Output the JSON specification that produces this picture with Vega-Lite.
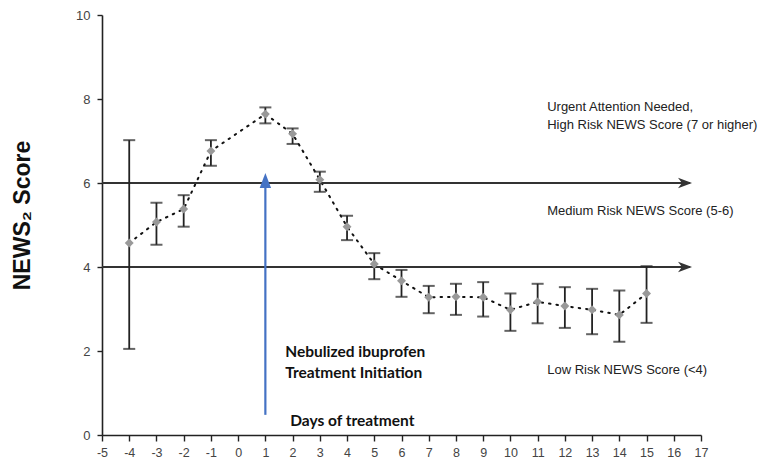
{
  "$schema": "https://vega.github.io/schema/vega-lite/v6.json",
  "width": 599,
  "height": 420,
  "autosize": "none",
  "padding": {"left": 102, "top": 15, "right": 79, "bottom": 34},
  "background": "white",
  "config": {
    "view": {"stroke": null},
    "axis": {"grid": false, "domainColor": "#222", "domainWidth": 1.6, "tickColor": "#222", "tickWidth": 1.4, "labelFont": "Liberation Sans", "labelFontSize": 13, "labelColor": "#444"},
    "axisX": {"labelOverlap": false, "labelBound": false, "labelFlush": false}
  },
  "datasets": {
    "pts": [
      {"day": -4, "mean": 4.57, "lo": 2.05, "hi": 7.02},
      {"day": -3, "mean": 5.07, "lo": 4.53, "hi": 5.53},
      {"day": -2, "mean": 5.38, "lo": 4.96, "hi": 5.71},
      {"day": -1, "mean": 6.76, "lo": 6.41, "hi": 7.02},
      {"day": 1, "mean": 7.64, "lo": 7.42, "hi": 7.8},
      {"day": 2, "mean": 7.17, "lo": 6.93, "hi": 7.3},
      {"day": 3, "mean": 6.08, "lo": 5.79, "hi": 6.27},
      {"day": 4, "mean": 4.96, "lo": 4.64, "hi": 5.22},
      {"day": 5, "mean": 4.07, "lo": 3.71, "hi": 4.33},
      {"day": 6, "mean": 3.67, "lo": 3.29, "hi": 3.93},
      {"day": 7, "mean": 3.28, "lo": 2.9, "hi": 3.55},
      {"day": 8, "mean": 3.29, "lo": 2.86, "hi": 3.6},
      {"day": 9, "mean": 3.28, "lo": 2.82, "hi": 3.64},
      {"day": 10, "mean": 2.98, "lo": 2.48, "hi": 3.37},
      {"day": 11, "mean": 3.17, "lo": 2.66, "hi": 3.6},
      {"day": 12, "mean": 3.07, "lo": 2.55, "hi": 3.52},
      {"day": 13, "mean": 2.98, "lo": 2.4, "hi": 3.48},
      {"day": 14, "mean": 2.86, "lo": 2.22, "hi": 3.44},
      {"day": 15, "mean": 3.37, "lo": 2.67, "hi": 4.02}
    ],
    "thresholds": [
      {"y": 6, "x0": -5, "x1": 16.6, "tip": 16.67},
      {"y": 4, "x0": -5, "x1": 16.6, "tip": 16.67}
    ],
    "bluearrow": [
      {"x": 1, "y0": 0.48, "y1": 5.95, "base": 5.88}
    ],
    "labels": [
      {"x": 11.35, "y": 7.81, "text": "Urgent Attention Needed,"},
      {"x": 11.35, "y": 7.38, "text": "High Risk NEWS Score (7 or higher)"},
      {"x": 11.35, "y": 5.33, "text": "Medium Risk NEWS Score (5-6)"},
      {"x": 11.35, "y": 1.55, "text": "Low Risk NEWS Score (<4)"}
    ],
    "boldlabels": [
      {"x": 1.73, "y": 1.98, "text": "Nebulized ibuprofen"},
      {"x": 1.73, "y": 1.48, "text": "Treatment Initiation"},
      {"x": 1.91, "y": 0.33, "text": "Days of treatment"}
    ]
  },
  "layer": [
    {
      "data": {"name": "pts"},
      "mark": {"type": "line", "color": "#111", "strokeWidth": 2, "strokeDash": [1.5, 6], "strokeCap": "round"},
      "encoding": {
        "x": {"field": "day", "type": "quantitative", "scale": {"domain": [-5, 17], "nice": false, "zero": false},
              "axis": {"values": [-5,-4,-3,-2,-1,0,1,2,3,4,5,6,7,8,9,10,11,12,13,14,15,16,17], "tickCount": 40, "labelOverlap": false, "labelExpr": "'' + datum.value", "title": null, "tickSize": 6, "labelPadding": 5, "labelFontSize": 12.5}},
        "y": {"field": "mean", "type": "quantitative", "scale": {"domain": [0, 10], "nice": false},
              "axis": {"values": [0, 2, 4, 6, 8, 10], "title": "NEWS₂ Score", "titleFont": "Liberation Sans", "titleFontSize": 23, "titleFontWeight": "bold", "titleColor": "#111", "titleX": -80, "titleY": 200, "titleAngle": -90, "titleAlign": "center", "titleBaseline": "middle", "tickSize": 5, "labelPadding": 7}}
      }
    },
    {
      "data": {"name": "thresholds"},
      "mark": {"type": "rule", "color": "#333", "strokeWidth": 2},
      "encoding": {
        "x": {"field": "x0", "type": "quantitative"},
        "x2": {"field": "x1"},
        "y": {"field": "y", "type": "quantitative"}
      }
    },
    {
      "data": {"name": "thresholds"},
      "mark": {"type": "point", "shape": "M-1,-0.38L0,0L-1,0.38L-0.72,0Z", "filled": true, "color": "#333", "size": 784, "opacity": 1},
      "encoding": {
        "x": {"field": "tip", "type": "quantitative"},
        "y": {"field": "y", "type": "quantitative"}
      }
    },
    {
      "data": {"name": "bluearrow"},
      "mark": {"type": "rule", "color": "#4472C4", "strokeWidth": 2.2},
      "encoding": {
        "x": {"field": "x", "type": "quantitative"},
        "y": {"field": "y0", "type": "quantitative"},
        "y2": {"field": "y1"}
      }
    },
    {
      "data": {"name": "bluearrow"},
      "mark": {"type": "point", "shape": "M0,-1L0.38,0L-0.38,0Z", "filled": true, "color": "#4472C4", "size": 900, "opacity": 1},
      "encoding": {
        "x": {"field": "x", "type": "quantitative"},
        "y": {"field": "base", "type": "quantitative"}
      }
    },
    {
      "data": {"name": "pts"},
      "mark": {"type": "rule", "color": "#222", "strokeWidth": 1.8},
      "encoding": {
        "x": {"field": "day", "type": "quantitative"},
        "y": {"field": "lo", "type": "quantitative"},
        "y2": {"field": "hi"}
      }
    },
    {
      "data": {"name": "pts"},
      "mark": {"type": "tick", "orient": "horizontal", "color": "#222", "size": 12, "thickness": 2},
      "encoding": {
        "x": {"field": "day", "type": "quantitative"},
        "y": {"field": "lo", "type": "quantitative"}
      }
    },
    {
      "data": {"name": "pts"},
      "mark": {"type": "tick", "orient": "horizontal", "color": "#222", "size": 12, "thickness": 2},
      "encoding": {
        "x": {"field": "day", "type": "quantitative"},
        "y": {"field": "hi", "type": "quantitative"}
      }
    },
    {
      "data": {"name": "pts"},
      "mark": {"type": "point", "shape": "diamond", "filled": true, "color": "#999", "size": 80, "opacity": 1},
      "encoding": {
        "x": {"field": "day", "type": "quantitative"},
        "y": {"field": "mean", "type": "quantitative"}
      }
    },
    {
      "data": {"name": "labels"},
      "mark": {"type": "text", "align": "left", "baseline": "middle", "font": "Liberation Sans", "fontSize": 13, "color": "#222"},
      "encoding": {
        "x": {"field": "x", "type": "quantitative"},
        "y": {"field": "y", "type": "quantitative"},
        "text": {"field": "text"}
      }
    },
    {
      "data": {"name": "boldlabels"},
      "mark": {"type": "text", "align": "left", "baseline": "middle", "font": "Lato", "fontSize": 15.5, "fontWeight": "bold", "color": "#111"},
      "encoding": {
        "x": {"field": "x", "type": "quantitative"},
        "y": {"field": "y", "type": "quantitative"},
        "text": {"field": "text"}
      }
    }
  ]
}
